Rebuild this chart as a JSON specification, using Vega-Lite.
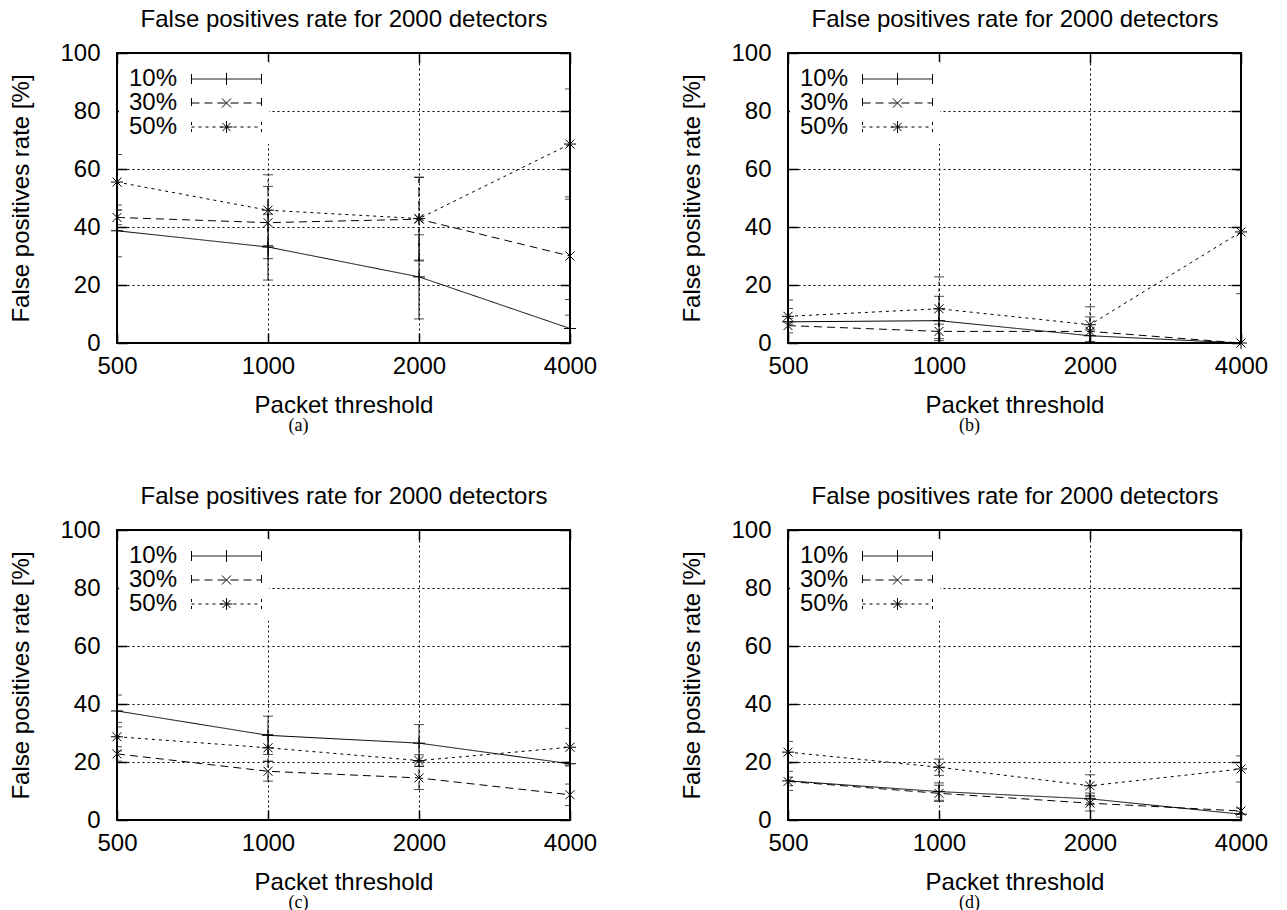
{
  "$schema": "https://vega.github.io/schema/vega-lite/v6.json",
  "autosize": {"type": "pad"},
  "padding": {"left": 8, "top": 6, "right": 0, "bottom": 0},
  "datasets": {
    "a": [
      {"t": 500, "s": "10%", "v": 38.7, "lo": 29.7, "hi": 47.6},
      {"t": 1000, "s": "10%", "v": 33.1, "lo": 21.7, "hi": 44.4},
      {"t": 2000, "s": "10%", "v": 22.8, "lo": 8.3, "hi": 37.3},
      {"t": 4000, "s": "10%", "v": 5.0, "lo": -5.0, "hi": 15.0},
      {"t": 500, "s": "30%", "v": 43.3, "lo": 40.8, "hi": 45.8},
      {"t": 1000, "s": "30%", "v": 41.5, "lo": 29.1, "hi": 54.0},
      {"t": 2000, "s": "30%", "v": 42.7, "lo": 28.3, "hi": 57.1},
      {"t": 4000, "s": "30%", "v": 30.0, "lo": 9.6, "hi": 50.4},
      {"t": 500, "s": "50%", "v": 55.5, "lo": 45.9, "hi": 65.0},
      {"t": 1000, "s": "50%", "v": 45.8, "lo": 33.6, "hi": 58.0},
      {"t": 2000, "s": "50%", "v": 42.9, "lo": 28.6, "hi": 57.2},
      {"t": 4000, "s": "50%", "v": 68.6, "lo": 49.6, "hi": 87.6}
    ],
    "b": [
      {"t": 500, "s": "10%", "v": 7.3, "lo": -0.2, "hi": 14.8},
      {"t": 1000, "s": "10%", "v": 7.7, "lo": -0.7, "hi": 16.1},
      {"t": 2000, "s": "10%", "v": 2.5, "lo": 0.5, "hi": 4.5},
      {"t": 4000, "s": "10%", "v": 0.0, "lo": 0.0, "hi": 0.0},
      {"t": 500, "s": "30%", "v": 6.0, "lo": 3.5, "hi": 8.5},
      {"t": 1000, "s": "30%", "v": 4.0, "lo": 1.5, "hi": 6.5},
      {"t": 2000, "s": "30%", "v": 4.0, "lo": -1.0, "hi": 9.0},
      {"t": 4000, "s": "30%", "v": 0.0, "lo": 0.0, "hi": 0.0},
      {"t": 500, "s": "50%", "v": 9.2, "lo": 6.5, "hi": 11.9},
      {"t": 1000, "s": "50%", "v": 11.8, "lo": 0.8, "hi": 22.8},
      {"t": 2000, "s": "50%", "v": 6.3, "lo": 0.1, "hi": 12.5},
      {"t": 4000, "s": "50%", "v": 38.3, "lo": 17.0, "hi": 59.6}
    ],
    "c": [
      {"t": 500, "s": "10%", "v": 37.6, "lo": 32.1, "hi": 43.1},
      {"t": 1000, "s": "10%", "v": 29.2, "lo": 22.6, "hi": 35.8},
      {"t": 2000, "s": "10%", "v": 26.5, "lo": 20.1, "hi": 32.9},
      {"t": 4000, "s": "10%", "v": 19.4, "lo": 18.9, "hi": 19.9},
      {"t": 500, "s": "30%", "v": 22.8, "lo": 20.3, "hi": 25.3},
      {"t": 1000, "s": "30%", "v": 16.8, "lo": 13.4, "hi": 20.2},
      {"t": 2000, "s": "30%", "v": 14.5, "lo": 10.5, "hi": 18.5},
      {"t": 4000, "s": "30%", "v": 8.7, "lo": 5.0, "hi": 12.4},
      {"t": 500, "s": "50%", "v": 28.7, "lo": 23.8, "hi": 33.6},
      {"t": 1000, "s": "50%", "v": 24.9, "lo": 20.3, "hi": 29.5},
      {"t": 2000, "s": "50%", "v": 20.5, "lo": 18.5, "hi": 22.5},
      {"t": 4000, "s": "50%", "v": 25.1, "lo": 18.6, "hi": 31.6}
    ],
    "d": [
      {"t": 500, "s": "10%", "v": 13.5, "lo": 10.2, "hi": 16.8},
      {"t": 1000, "s": "10%", "v": 9.8, "lo": 6.8, "hi": 12.8},
      {"t": 2000, "s": "10%", "v": 7.3, "lo": 5.3, "hi": 9.3},
      {"t": 4000, "s": "10%", "v": 2.0, "lo": 1.0, "hi": 3.0},
      {"t": 500, "s": "30%", "v": 13.3, "lo": 11.8, "hi": 14.8},
      {"t": 1000, "s": "30%", "v": 9.2, "lo": 6.4, "hi": 12.0},
      {"t": 2000, "s": "30%", "v": 5.8, "lo": 3.1, "hi": 8.5},
      {"t": 4000, "s": "30%", "v": 3.1, "lo": 2.1, "hi": 4.1},
      {"t": 500, "s": "50%", "v": 23.4, "lo": 19.7, "hi": 27.1},
      {"t": 1000, "s": "50%", "v": 18.2, "lo": 15.4, "hi": 21.0},
      {"t": 2000, "s": "50%", "v": 11.8, "lo": 8.0, "hi": 15.6},
      {"t": 4000, "s": "50%", "v": 17.6, "lo": 13.1, "hi": 22.1}
    ]
  },
  "spacing": 47,
  "resolve": {"scale": {"strokeDash": "independent", "shape": "independent"}},
  "vconcat": [
    {
      "spacing": 81,
      "resolve": {"scale": {"strokeDash": "independent", "shape": "independent"}},
      "hconcat": [
        {
          "width": 453, "height": 290,
          "data": {"name": "a"},
          "title": {"text": "(a)", "orient": "bottom", "anchor": "middle", "dx": -45, "offset": 0, "font": "Liberation Serif", "fontSize": 18, "fontWeight": "normal", "color": "black"},
          "resolve": {"axis": {"x": "independent", "y": "independent"}, "scale": {"shape": "independent", "strokeDash": "independent"}},
          "layer": [
            {"mark": {"type": "line", "color": "black", "strokeWidth": 1},
             "encoding": {
               "x": {"field": "t", "type": "quantitative", "scale": {"type": "log", "base": 2, "domain": [500, 4000], "nice": false}, "axis": {"orient": "bottom", "values": [500, 1000, 2000, 4000], "format": "d", "grid": true, "title": "Packet threshold"}},
               "y": {"field": "v", "type": "quantitative", "scale": {"domain": [0, 100], "nice": false}, "axis": {"orient": "left", "values": [0, 20, 40, 60, 80, 100], "format": "d", "grid": true, "title": "False positives rate [%]"}},
               "strokeDash": {"field": "s", "type": "nominal", "scale": {"domain": ["10%", "30%", "50%"], "range": [[1, 0], [8, 5], [3, 4]]}, "legend": null}
             }},
            {"mark": {"type": "rule", "color": "black", "strokeWidth": 1, "clip": true},
             "encoding": {
               "x": {"field": "t", "type": "quantitative", "axis": {"orient": "top", "values": [500, 1000, 2000, 4000], "labels": false, "grid": false, "title": "False positives rate for 2000 detectors"}},
               "y": {"field": "lo", "type": "quantitative", "axis": {"orient": "right", "values": [0, 20, 40, 60, 80, 100], "labels": false, "grid": false, "title": null}},
               "y2": {"field": "hi"},
               "strokeDash": {"field": "s", "type": "nominal", "scale": {"domain": ["10%", "30%", "50%"], "range": [[1, 0], [8, 5], [3, 4]]}, "legend": null}
             }},
            {"mark": {"type": "tick", "orient": "horizontal", "color": "black", "size": 10, "thickness": 1, "clip": true},
             "encoding": {"x": {"field": "t", "type": "quantitative", "axis": null}, "y": {"field": "lo", "type": "quantitative", "axis": null}}},
            {"mark": {"type": "tick", "orient": "horizontal", "color": "black", "size": 10, "thickness": 1, "clip": true},
             "encoding": {"x": {"field": "t", "type": "quantitative", "axis": null}, "y": {"field": "hi", "type": "quantitative", "axis": null}}},
            {"mark": {"type": "point", "filled": false, "color": "black", "strokeWidth": 1, "size": 144, "opacity": 1},
             "encoding": {"x": {"field": "t", "type": "quantitative", "axis": null}, "y": {"field": "v", "type": "quantitative", "axis": null},
               "shape": {"field": "s", "type": "nominal", "scale": {"domain": ["10%", "30%", "50%"], "range": ["M-1,0L1,0M0,-1L0,1", "M-0.75,-0.75L0.75,0.75M-0.75,0.75L0.75,-0.75", "M-1,0L1,0M0,-1L0,1M-0.75,-0.75L0.75,0.75M-0.75,0.75L0.75,-0.75"]}, "legend": null}}},
            {"transform": [{"filter": "datum.t == 500"}],
             "mark": {"type": "point", "filled": false, "color": "black", "strokeWidth": 1, "size": 400, "opacity": 0, "clip": true},
             "encoding": {"x": {"field": "t", "type": "quantitative", "axis": null}, "y": {"field": "v", "type": "quantitative", "axis": null},
               "shape": {"field": "s", "type": "nominal", "scale": {"domain": ["10%", "30%", "50%"], "range": ["M5.55,0L12.55,0M5.55,-0.5L5.55,0.5M12.55,-0.5L12.55,0.5M9.05,-0.6L9.05,0.6", "M5.55,0L12.55,0M5.55,-0.5L5.55,0.5M12.55,-0.5L12.55,0.5M9.05,0L8.6,-0.45M9.05,0L9.5,-0.45M9.05,0L8.6,0.45M9.05,0L9.5,0.45", "M5.55,0L12.55,0M5.55,-0.5L5.55,0.5M12.55,-0.5L12.55,0.5M9.05,0L9.05,-0.3M9.05,-0.3L9.05,-0.6M9.05,0L9.05,0.3M9.05,0.3L9.05,0.6M9.05,0L8.75,0M8.75,0L8.45,0M9.05,0L9.35,0M9.35,0L9.65,0M9.05,0L8.85,-0.2M8.85,-0.2L8.65,-0.4M9.05,0L9.25,-0.2M9.25,-0.2L9.45,-0.4M9.05,0L8.85,0.2M8.85,0.2L8.65,0.4M9.05,0L9.25,0.2M9.25,0.2L9.45,0.4"]},
                 "legend": {"title": null, "orient": "none", "legendX": 2, "legendY": 9, "padding": 5, "fillColor": "white", "labelFont": "Liberation Sans", "labelFontSize": 24, "labelColor": "black", "labelOffset": -19, "symbolSize": 400, "rowPadding": 0, "symbolStrokeColor": "black", "symbolStrokeWidth": 1, "symbolOpacity": 1, "symbolFillColor": "transparent"}},
               "strokeDash": {"field": "s", "type": "nominal", "scale": {"domain": ["10%", "30%", "50%"], "range": [[1, 0], [8, 5], [3, 4]]},
                 "legend": {"title": null, "orient": "none", "legendX": 2, "legendY": 9, "padding": 5, "fillColor": "white", "labelFont": "Liberation Sans", "labelFontSize": 24, "labelColor": "black", "labelOffset": -19, "symbolSize": 400, "rowPadding": 0, "symbolStrokeColor": "black", "symbolStrokeWidth": 1, "symbolOpacity": 1, "symbolFillColor": "transparent"}}}}
          ]
        },
        {
          "width": 453, "height": 290,
          "data": {"name": "b"},
          "title": {"text": "(b)", "orient": "bottom", "anchor": "middle", "dx": -45, "offset": 0, "font": "Liberation Serif", "fontSize": 18, "fontWeight": "normal", "color": "black"},
          "resolve": {"axis": {"x": "independent", "y": "independent"}, "scale": {"shape": "independent", "strokeDash": "independent"}},
          "layer": [
            {"mark": {"type": "line", "color": "black", "strokeWidth": 1},
             "encoding": {
               "x": {"field": "t", "type": "quantitative", "scale": {"type": "log", "base": 2, "domain": [500, 4000], "nice": false}, "axis": {"orient": "bottom", "values": [500, 1000, 2000, 4000], "format": "d", "grid": true, "title": "Packet threshold"}},
               "y": {"field": "v", "type": "quantitative", "scale": {"domain": [0, 100], "nice": false}, "axis": {"orient": "left", "values": [0, 20, 40, 60, 80, 100], "format": "d", "grid": true, "title": "False positives rate [%]"}},
               "strokeDash": {"field": "s", "type": "nominal", "scale": {"domain": ["10%", "30%", "50%"], "range": [[1, 0], [8, 5], [3, 4]]}, "legend": null}
             }},
            {"mark": {"type": "rule", "color": "black", "strokeWidth": 1, "clip": true},
             "encoding": {
               "x": {"field": "t", "type": "quantitative", "axis": {"orient": "top", "values": [500, 1000, 2000, 4000], "labels": false, "grid": false, "title": "False positives rate for 2000 detectors"}},
               "y": {"field": "lo", "type": "quantitative", "axis": {"orient": "right", "values": [0, 20, 40, 60, 80, 100], "labels": false, "grid": false, "title": null}},
               "y2": {"field": "hi"},
               "strokeDash": {"field": "s", "type": "nominal", "scale": {"domain": ["10%", "30%", "50%"], "range": [[1, 0], [8, 5], [3, 4]]}, "legend": null}
             }},
            {"mark": {"type": "tick", "orient": "horizontal", "color": "black", "size": 10, "thickness": 1, "clip": true},
             "encoding": {"x": {"field": "t", "type": "quantitative", "axis": null}, "y": {"field": "lo", "type": "quantitative", "axis": null}}},
            {"mark": {"type": "tick", "orient": "horizontal", "color": "black", "size": 10, "thickness": 1, "clip": true},
             "encoding": {"x": {"field": "t", "type": "quantitative", "axis": null}, "y": {"field": "hi", "type": "quantitative", "axis": null}}},
            {"mark": {"type": "point", "filled": false, "color": "black", "strokeWidth": 1, "size": 144, "opacity": 1},
             "encoding": {"x": {"field": "t", "type": "quantitative", "axis": null}, "y": {"field": "v", "type": "quantitative", "axis": null},
               "shape": {"field": "s", "type": "nominal", "scale": {"domain": ["10%", "30%", "50%"], "range": ["M-1,0L1,0M0,-1L0,1", "M-0.75,-0.75L0.75,0.75M-0.75,0.75L0.75,-0.75", "M-1,0L1,0M0,-1L0,1M-0.75,-0.75L0.75,0.75M-0.75,0.75L0.75,-0.75"]}, "legend": null}}},
            {"transform": [{"filter": "datum.t == 500"}],
             "mark": {"type": "point", "filled": false, "color": "black", "strokeWidth": 1, "size": 400, "opacity": 0, "clip": true},
             "encoding": {"x": {"field": "t", "type": "quantitative", "axis": null}, "y": {"field": "v", "type": "quantitative", "axis": null},
               "shape": {"field": "s", "type": "nominal", "scale": {"domain": ["10%", "30%", "50%"], "range": ["M5.55,0L12.55,0M5.55,-0.5L5.55,0.5M12.55,-0.5L12.55,0.5M9.05,-0.6L9.05,0.6", "M5.55,0L12.55,0M5.55,-0.5L5.55,0.5M12.55,-0.5L12.55,0.5M9.05,0L8.6,-0.45M9.05,0L9.5,-0.45M9.05,0L8.6,0.45M9.05,0L9.5,0.45", "M5.55,0L12.55,0M5.55,-0.5L5.55,0.5M12.55,-0.5L12.55,0.5M9.05,0L9.05,-0.3M9.05,-0.3L9.05,-0.6M9.05,0L9.05,0.3M9.05,0.3L9.05,0.6M9.05,0L8.75,0M8.75,0L8.45,0M9.05,0L9.35,0M9.35,0L9.65,0M9.05,0L8.85,-0.2M8.85,-0.2L8.65,-0.4M9.05,0L9.25,-0.2M9.25,-0.2L9.45,-0.4M9.05,0L8.85,0.2M8.85,0.2L8.65,0.4M9.05,0L9.25,0.2M9.25,0.2L9.45,0.4"]},
                 "legend": {"title": null, "orient": "none", "legendX": 2, "legendY": 9, "padding": 5, "fillColor": "white", "labelFont": "Liberation Sans", "labelFontSize": 24, "labelColor": "black", "labelOffset": -19, "symbolSize": 400, "rowPadding": 0, "symbolStrokeColor": "black", "symbolStrokeWidth": 1, "symbolOpacity": 1, "symbolFillColor": "transparent"}},
               "strokeDash": {"field": "s", "type": "nominal", "scale": {"domain": ["10%", "30%", "50%"], "range": [[1, 0], [8, 5], [3, 4]]},
                 "legend": {"title": null, "orient": "none", "legendX": 2, "legendY": 9, "padding": 5, "fillColor": "white", "labelFont": "Liberation Sans", "labelFontSize": 24, "labelColor": "black", "labelOffset": -19, "symbolSize": 400, "rowPadding": 0, "symbolStrokeColor": "black", "symbolStrokeWidth": 1, "symbolOpacity": 1, "symbolFillColor": "transparent"}}}}
          ]
        }
      ]
    },
    {
      "spacing": 81,
      "resolve": {"scale": {"strokeDash": "independent", "shape": "independent"}},
      "hconcat": [
        {
          "width": 453, "height": 290,
          "data": {"name": "c"},
          "title": {"text": "(c)", "orient": "bottom", "anchor": "middle", "dx": -45, "offset": 0, "font": "Liberation Serif", "fontSize": 18, "fontWeight": "normal", "color": "black"},
          "resolve": {"axis": {"x": "independent", "y": "independent"}, "scale": {"shape": "independent", "strokeDash": "independent"}},
          "layer": [
            {"mark": {"type": "line", "color": "black", "strokeWidth": 1},
             "encoding": {
               "x": {"field": "t", "type": "quantitative", "scale": {"type": "log", "base": 2, "domain": [500, 4000], "nice": false}, "axis": {"orient": "bottom", "values": [500, 1000, 2000, 4000], "format": "d", "grid": true, "title": "Packet threshold"}},
               "y": {"field": "v", "type": "quantitative", "scale": {"domain": [0, 100], "nice": false}, "axis": {"orient": "left", "values": [0, 20, 40, 60, 80, 100], "format": "d", "grid": true, "title": "False positives rate [%]"}},
               "strokeDash": {"field": "s", "type": "nominal", "scale": {"domain": ["10%", "30%", "50%"], "range": [[1, 0], [8, 5], [3, 4]]}, "legend": null}
             }},
            {"mark": {"type": "rule", "color": "black", "strokeWidth": 1, "clip": true},
             "encoding": {
               "x": {"field": "t", "type": "quantitative", "axis": {"orient": "top", "values": [500, 1000, 2000, 4000], "labels": false, "grid": false, "title": "False positives rate for 2000 detectors"}},
               "y": {"field": "lo", "type": "quantitative", "axis": {"orient": "right", "values": [0, 20, 40, 60, 80, 100], "labels": false, "grid": false, "title": null}},
               "y2": {"field": "hi"},
               "strokeDash": {"field": "s", "type": "nominal", "scale": {"domain": ["10%", "30%", "50%"], "range": [[1, 0], [8, 5], [3, 4]]}, "legend": null}
             }},
            {"mark": {"type": "tick", "orient": "horizontal", "color": "black", "size": 10, "thickness": 1, "clip": true},
             "encoding": {"x": {"field": "t", "type": "quantitative", "axis": null}, "y": {"field": "lo", "type": "quantitative", "axis": null}}},
            {"mark": {"type": "tick", "orient": "horizontal", "color": "black", "size": 10, "thickness": 1, "clip": true},
             "encoding": {"x": {"field": "t", "type": "quantitative", "axis": null}, "y": {"field": "hi", "type": "quantitative", "axis": null}}},
            {"mark": {"type": "point", "filled": false, "color": "black", "strokeWidth": 1, "size": 144, "opacity": 1},
             "encoding": {"x": {"field": "t", "type": "quantitative", "axis": null}, "y": {"field": "v", "type": "quantitative", "axis": null},
               "shape": {"field": "s", "type": "nominal", "scale": {"domain": ["10%", "30%", "50%"], "range": ["M-1,0L1,0M0,-1L0,1", "M-0.75,-0.75L0.75,0.75M-0.75,0.75L0.75,-0.75", "M-1,0L1,0M0,-1L0,1M-0.75,-0.75L0.75,0.75M-0.75,0.75L0.75,-0.75"]}, "legend": null}}},
            {"transform": [{"filter": "datum.t == 500"}],
             "mark": {"type": "point", "filled": false, "color": "black", "strokeWidth": 1, "size": 400, "opacity": 0, "clip": true},
             "encoding": {"x": {"field": "t", "type": "quantitative", "axis": null}, "y": {"field": "v", "type": "quantitative", "axis": null},
               "shape": {"field": "s", "type": "nominal", "scale": {"domain": ["10%", "30%", "50%"], "range": ["M5.55,0L12.55,0M5.55,-0.5L5.55,0.5M12.55,-0.5L12.55,0.5M9.05,-0.6L9.05,0.6", "M5.55,0L12.55,0M5.55,-0.5L5.55,0.5M12.55,-0.5L12.55,0.5M9.05,0L8.6,-0.45M9.05,0L9.5,-0.45M9.05,0L8.6,0.45M9.05,0L9.5,0.45", "M5.55,0L12.55,0M5.55,-0.5L5.55,0.5M12.55,-0.5L12.55,0.5M9.05,0L9.05,-0.3M9.05,-0.3L9.05,-0.6M9.05,0L9.05,0.3M9.05,0.3L9.05,0.6M9.05,0L8.75,0M8.75,0L8.45,0M9.05,0L9.35,0M9.35,0L9.65,0M9.05,0L8.85,-0.2M8.85,-0.2L8.65,-0.4M9.05,0L9.25,-0.2M9.25,-0.2L9.45,-0.4M9.05,0L8.85,0.2M8.85,0.2L8.65,0.4M9.05,0L9.25,0.2M9.25,0.2L9.45,0.4"]},
                 "legend": {"title": null, "orient": "none", "legendX": 2, "legendY": 9, "padding": 5, "fillColor": "white", "labelFont": "Liberation Sans", "labelFontSize": 24, "labelColor": "black", "labelOffset": -19, "symbolSize": 400, "rowPadding": 0, "symbolStrokeColor": "black", "symbolStrokeWidth": 1, "symbolOpacity": 1, "symbolFillColor": "transparent"}},
               "strokeDash": {"field": "s", "type": "nominal", "scale": {"domain": ["10%", "30%", "50%"], "range": [[1, 0], [8, 5], [3, 4]]},
                 "legend": {"title": null, "orient": "none", "legendX": 2, "legendY": 9, "padding": 5, "fillColor": "white", "labelFont": "Liberation Sans", "labelFontSize": 24, "labelColor": "black", "labelOffset": -19, "symbolSize": 400, "rowPadding": 0, "symbolStrokeColor": "black", "symbolStrokeWidth": 1, "symbolOpacity": 1, "symbolFillColor": "transparent"}}}}
          ]
        },
        {
          "width": 453, "height": 290,
          "data": {"name": "d"},
          "title": {"text": "(d)", "orient": "bottom", "anchor": "middle", "dx": -45, "offset": 0, "font": "Liberation Serif", "fontSize": 18, "fontWeight": "normal", "color": "black"},
          "resolve": {"axis": {"x": "independent", "y": "independent"}, "scale": {"shape": "independent", "strokeDash": "independent"}},
          "layer": [
            {"mark": {"type": "line", "color": "black", "strokeWidth": 1},
             "encoding": {
               "x": {"field": "t", "type": "quantitative", "scale": {"type": "log", "base": 2, "domain": [500, 4000], "nice": false}, "axis": {"orient": "bottom", "values": [500, 1000, 2000, 4000], "format": "d", "grid": true, "title": "Packet threshold"}},
               "y": {"field": "v", "type": "quantitative", "scale": {"domain": [0, 100], "nice": false}, "axis": {"orient": "left", "values": [0, 20, 40, 60, 80, 100], "format": "d", "grid": true, "title": "False positives rate [%]"}},
               "strokeDash": {"field": "s", "type": "nominal", "scale": {"domain": ["10%", "30%", "50%"], "range": [[1, 0], [8, 5], [3, 4]]}, "legend": null}
             }},
            {"mark": {"type": "rule", "color": "black", "strokeWidth": 1, "clip": true},
             "encoding": {
               "x": {"field": "t", "type": "quantitative", "axis": {"orient": "top", "values": [500, 1000, 2000, 4000], "labels": false, "grid": false, "title": "False positives rate for 2000 detectors"}},
               "y": {"field": "lo", "type": "quantitative", "axis": {"orient": "right", "values": [0, 20, 40, 60, 80, 100], "labels": false, "grid": false, "title": null}},
               "y2": {"field": "hi"},
               "strokeDash": {"field": "s", "type": "nominal", "scale": {"domain": ["10%", "30%", "50%"], "range": [[1, 0], [8, 5], [3, 4]]}, "legend": null}
             }},
            {"mark": {"type": "tick", "orient": "horizontal", "color": "black", "size": 10, "thickness": 1, "clip": true},
             "encoding": {"x": {"field": "t", "type": "quantitative", "axis": null}, "y": {"field": "lo", "type": "quantitative", "axis": null}}},
            {"mark": {"type": "tick", "orient": "horizontal", "color": "black", "size": 10, "thickness": 1, "clip": true},
             "encoding": {"x": {"field": "t", "type": "quantitative", "axis": null}, "y": {"field": "hi", "type": "quantitative", "axis": null}}},
            {"mark": {"type": "point", "filled": false, "color": "black", "strokeWidth": 1, "size": 144, "opacity": 1},
             "encoding": {"x": {"field": "t", "type": "quantitative", "axis": null}, "y": {"field": "v", "type": "quantitative", "axis": null},
               "shape": {"field": "s", "type": "nominal", "scale": {"domain": ["10%", "30%", "50%"], "range": ["M-1,0L1,0M0,-1L0,1", "M-0.75,-0.75L0.75,0.75M-0.75,0.75L0.75,-0.75", "M-1,0L1,0M0,-1L0,1M-0.75,-0.75L0.75,0.75M-0.75,0.75L0.75,-0.75"]}, "legend": null}}},
            {"transform": [{"filter": "datum.t == 500"}],
             "mark": {"type": "point", "filled": false, "color": "black", "strokeWidth": 1, "size": 400, "opacity": 0, "clip": true},
             "encoding": {"x": {"field": "t", "type": "quantitative", "axis": null}, "y": {"field": "v", "type": "quantitative", "axis": null},
               "shape": {"field": "s", "type": "nominal", "scale": {"domain": ["10%", "30%", "50%"], "range": ["M5.55,0L12.55,0M5.55,-0.5L5.55,0.5M12.55,-0.5L12.55,0.5M9.05,-0.6L9.05,0.6", "M5.55,0L12.55,0M5.55,-0.5L5.55,0.5M12.55,-0.5L12.55,0.5M9.05,0L8.6,-0.45M9.05,0L9.5,-0.45M9.05,0L8.6,0.45M9.05,0L9.5,0.45", "M5.55,0L12.55,0M5.55,-0.5L5.55,0.5M12.55,-0.5L12.55,0.5M9.05,0L9.05,-0.3M9.05,-0.3L9.05,-0.6M9.05,0L9.05,0.3M9.05,0.3L9.05,0.6M9.05,0L8.75,0M8.75,0L8.45,0M9.05,0L9.35,0M9.35,0L9.65,0M9.05,0L8.85,-0.2M8.85,-0.2L8.65,-0.4M9.05,0L9.25,-0.2M9.25,-0.2L9.45,-0.4M9.05,0L8.85,0.2M8.85,0.2L8.65,0.4M9.05,0L9.25,0.2M9.25,0.2L9.45,0.4"]},
                 "legend": {"title": null, "orient": "none", "legendX": 2, "legendY": 9, "padding": 5, "fillColor": "white", "labelFont": "Liberation Sans", "labelFontSize": 24, "labelColor": "black", "labelOffset": -19, "symbolSize": 400, "rowPadding": 0, "symbolStrokeColor": "black", "symbolStrokeWidth": 1, "symbolOpacity": 1, "symbolFillColor": "transparent"}},
               "strokeDash": {"field": "s", "type": "nominal", "scale": {"domain": ["10%", "30%", "50%"], "range": [[1, 0], [8, 5], [3, 4]]},
                 "legend": {"title": null, "orient": "none", "legendX": 2, "legendY": 9, "padding": 5, "fillColor": "white", "labelFont": "Liberation Sans", "labelFontSize": 24, "labelColor": "black", "labelOffset": -19, "symbolSize": 400, "rowPadding": 0, "symbolStrokeColor": "black", "symbolStrokeWidth": 1, "symbolOpacity": 1, "symbolFillColor": "transparent"}}}}
          ]
        }
      ]
    }
  ],
  "config": {
    "background": "white",
    "font": "Liberation Sans",
    "view": {"stroke": "black", "strokeWidth": 2},
    "axis": {
      "labelFont": "Liberation Sans", "labelFontSize": 24, "labelColor": "black", "labelFlush": false, "labelPadding": 21,
      "titleFont": "Liberation Sans", "titleFontSize": 24, "titleFontWeight": "normal", "titleColor": "black",
      "tickColor": "black", "tickSize": -10, "tickWidth": 1.5, "domain": false,
      "gridColor": "black", "gridDash": [2, 3], "gridWidth": 1, "gridOpacity": 1
    },
    "axisLeft": {"titlePadding": 26, "labelPadding": 27},
    "axisBottom": {"titlePadding": 15},
    "axisTop": {"titlePadding": 21}
  }
}
